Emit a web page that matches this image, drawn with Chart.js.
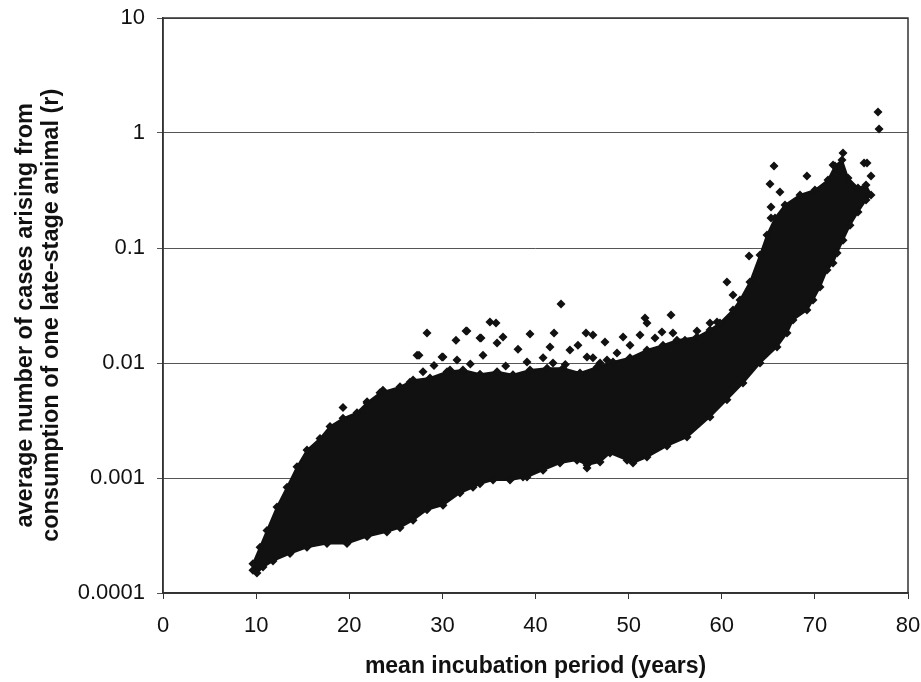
<!DOCTYPE html>
<html>
<head>
<meta charset="utf-8">
<script src="https://cdn.jsdelivr.net/npm/chart.js@4"></script>
<style>
  body { margin: 0; background: #fff; }
</style>
</head>
<body>
<canvas id="chart" width="921" height="682"></canvas>
<script>
  // tick labels
  var xTicks = [0, 10, 20, 30, 40, 50, 60, 70, 80];
  var yTicks = [0.0001, 0.001, 0.01, 0.1, 1, 10];
  var yTickLabels = ['0.0001', '0.001', '0.01', '0.1', '1', '10'];

  // outline of the dense cloud of simulation runs (incubation years, r)
  // upper edge left to right, then lower edge right to left
  var cloudX = [9.66, 9.66, 10.42, 11.17, 12.24, 13.32, 14.39, 15.46, 16.86, 17.93, 19.33, 20.83, 21.91, 23.30,
    25.45, 26.85, 28.67, 30.50, 32.21, 34.04, 35.87, 37.58, 39.41, 41.24, 42.95, 44.78, 46.60, 48.32,
    50.15, 51.97, 53.69, 55.19, 57.34, 58.74, 59.81, 61.21, 61.96, 63.03, 64.11, 64.86, 65.72, 66.79,
    68.40, 70.01, 71.41, 72.16, 72.91, 73.56, 74.63, 75.49, 76.03,
    75.49, 74.63, 73.77, 73.02, 72.38, 71.95, 71.30, 70.55, 69.80, 69.15, 67.65, 67.01, 65.93, 64.11,
    62.28, 60.56, 58.74, 56.27, 54.12, 51.97, 50.47, 49.83, 48.00, 46.93, 45.53, 44.46, 42.63, 40.81,
    39.09, 37.26, 35.44, 34.04, 33.29, 31.89, 30.07, 28.35, 26.85, 25.45, 24.05, 21.91, 19.76, 17.61,
    15.46, 13.64, 11.81, 10.74, 10.09];
  var cloudR = [0.000158, 0.00018, 0.00025, 0.00035, 0.00056, 0.00083, 0.00125, 0.00175, 0.0022, 0.0028, 0.0033, 0.0037, 0.0045, 0.0055,
    0.0062, 0.0071, 0.0074, 0.0084, 0.0087, 0.0080, 0.0084, 0.0079, 0.0087, 0.0090, 0.0090, 0.0082, 0.0092, 0.0102,
    0.0111, 0.0130, 0.0143, 0.0158, 0.0168, 0.0194, 0.0223, 0.0289, 0.0353, 0.0506, 0.0869, 0.1297, 0.1823, 0.2366,
    0.289, 0.319, 0.390, 0.516, 0.582, 0.406, 0.332, 0.353, 0.289,
    0.2615, 0.2056, 0.158, 0.117, 0.0905, 0.0741, 0.0644, 0.0458, 0.0353, 0.0289, 0.0237, 0.0182, 0.0138, 0.0100,
    0.0067, 0.0048, 0.0034, 0.00227, 0.0019, 0.00152, 0.00135, 0.00143, 0.00165, 0.00138, 0.00130, 0.00143, 0.00135, 0.00117,
    0.00102, 0.00096, 0.00096, 0.00089, 0.00083, 0.00074, 0.00058, 0.00053, 0.00043, 0.00037, 0.00034, 0.00031, 0.00027, 0.00027,
    0.00025, 0.00022, 0.00019, 0.000168, 0.000149];

  // scattered runs lying outside the dense cloud
  var looseX = [76.78, 76.89, 73.02, 75.28, 75.60, 76.03, 71.95, 69.15, 65.61, 65.18, 66.25, 65.29, 65.29, 62.93,
    60.56, 61.21, 42.74, 51.76, 51.97, 54.55, 57.34, 53.58, 39.41, 41.99, 35.11, 35.76, 32.64, 34.15,
    45.42, 46.17, 28.35, 27.49, 31.46, 32.54, 34.04, 35.87, 36.51, 38.12, 41.56, 43.70, 44.56, 47.46,
    48.75, 29.96, 31.57, 34.36, 39.09, 40.81, 41.88, 46.17, 47.68, 27.28, 27.92, 30.07, 19.33, 21.91,
    23.62, 26.52, 30.82, 49.40, 58.74, 59.49, 61.96, 63.35, 54.76, 38.66, 45.53, 50.15, 51.22, 52.83, 56.05,
    45.53, 46.93, 48.32, 29.10, 33.00, 36.80, 43.20];
  var looseR = [1.523, 1.083, 0.670, 0.548, 0.548, 0.423, 0.527, 0.423, 0.516, 0.360, 0.307, 0.2273, 0.1823, 0.0852,
    0.0506, 0.0390, 0.0326, 0.0246, 0.0223, 0.0262, 0.0190, 0.0186, 0.0179, 0.0182, 0.0227, 0.0223, 0.0190, 0.0165,
    0.0182, 0.0175, 0.0182, 0.0117, 0.0158, 0.0190, 0.0165, 0.0149, 0.0168, 0.0132, 0.0138, 0.0130, 0.0143, 0.0152,
    0.0122, 0.0113, 0.0106, 0.0117, 0.0102, 0.0111, 0.0100, 0.0111, 0.0106, 0.0117, 0.0084, 0.0113, 0.0041, 0.0046,
    0.0058, 0.0068, 0.0087, 0.0168, 0.0223, 0.0227, 0.0307, 0.0406, 0.0182, 0.00102, 0.00122, 0.0143, 0.0175, 0.0165, 0.0158,
    0.0113, 0.0100, 0.0100, 0.0095, 0.0098, 0.0094, 0.0097];

  function toPoints(xs, ys) {
    var pts = [];
    xs.forEach(function (x, i) { pts.push({ x: x, y: ys[i] }); });
    return pts;
  }

  Chart.defaults.font.family = '"Liberation Sans", Arial, sans-serif';
  Chart.defaults.color = '#111';

  // box round the plot area, as in the spreadsheet original
  var frame = {
    id: 'frame',
    afterDatasetsDraw: function (chart) {
      var a = chart.chartArea, ctx = chart.ctx;
      ctx.save();
      ctx.strokeStyle = '#333';
      ctx.lineWidth = 1.5;
      ctx.strokeRect(a.left, a.top, a.right - a.left, a.bottom - a.top);
      ctx.restore();
    }
  };

  var ctx = document.getElementById('chart');
  var myChart = new Chart(ctx, {
    type: 'scatter',
    data: {
      datasets: [{
        label: 'cloud',
        data: toPoints(cloudX, cloudR),
        showLine: true,
        fill: 'shape',
        backgroundColor: '#111',
        borderColor: '#111',
        borderWidth: 2,
        pointStyle: 'rectRot',
        pointRadius: 4.5,
        pointBorderWidth: 0
      }, {
        label: 'loose',
        data: toPoints(looseX, looseR),
        backgroundColor: '#111',
        pointStyle: 'rectRot',
        pointRadius: 4.5,
        pointBorderWidth: 0
      }]
    },
    options: {
      responsive: false,
      animation: false,
      layout: { padding: { top: 18, right: 13, left: 0, bottom: 0 } },
      plugins: { legend: { display: false }, tooltip: { enabled: false } },
      scales: {
        x: {
          type: 'linear',
          min: 0,
          max: 80,
          afterBuildTicks: function (s) { s.ticks = xTicks.map(function (v) { return { value: v }; }); },
          afterFit: function (s) { s.height = 89; s.paddingLeft = 0; s.paddingRight = 0; },
          ticks: { font: { size: 22 }, padding: 14, maxRotation: 0 },
          grid: { drawOnChartArea: false, drawTicks: true, tickLength: 6, color: '#333' },
          border: { color: '#333', width: 1.5 },
          title: {
            display: true,
            text: 'mean incubation period (years)',
            font: { size: 23, weight: 'bold' },
            padding: { top: 0, bottom: 2 }
          }
        },
        y: {
          type: 'logarithmic',
          min: 0.0001,
          max: 10,
          afterBuildTicks: function (s) { s.ticks = yTicks.map(function (v) { return { value: v }; }); },
          afterFit: function (s) { s.width = 163; s.paddingTop = 0; s.paddingBottom = 0; },
          ticks: {
            font: { size: 22 },
            padding: 12,
            callback: function (value, index) { return yTickLabels[index]; }
          },
          grid: { color: '#555', lineWidth: 1, tickLength: 6 },
          border: { color: '#333', width: 1.5 },
          title: {
            display: true,
            text: ['average number of cases arising from\u00a0\u00a0\u00a0', 'consumption of one late-stage animal (r)\u00a0\u00a0\u00a0'],
            font: { size: 23.5, weight: 'bold', lineHeight: 1.13 },
            padding: { top: 12, bottom: 0 }
          }
        }
      }
    },
    plugins: [frame]
  });
</script>
</body>
</html>
